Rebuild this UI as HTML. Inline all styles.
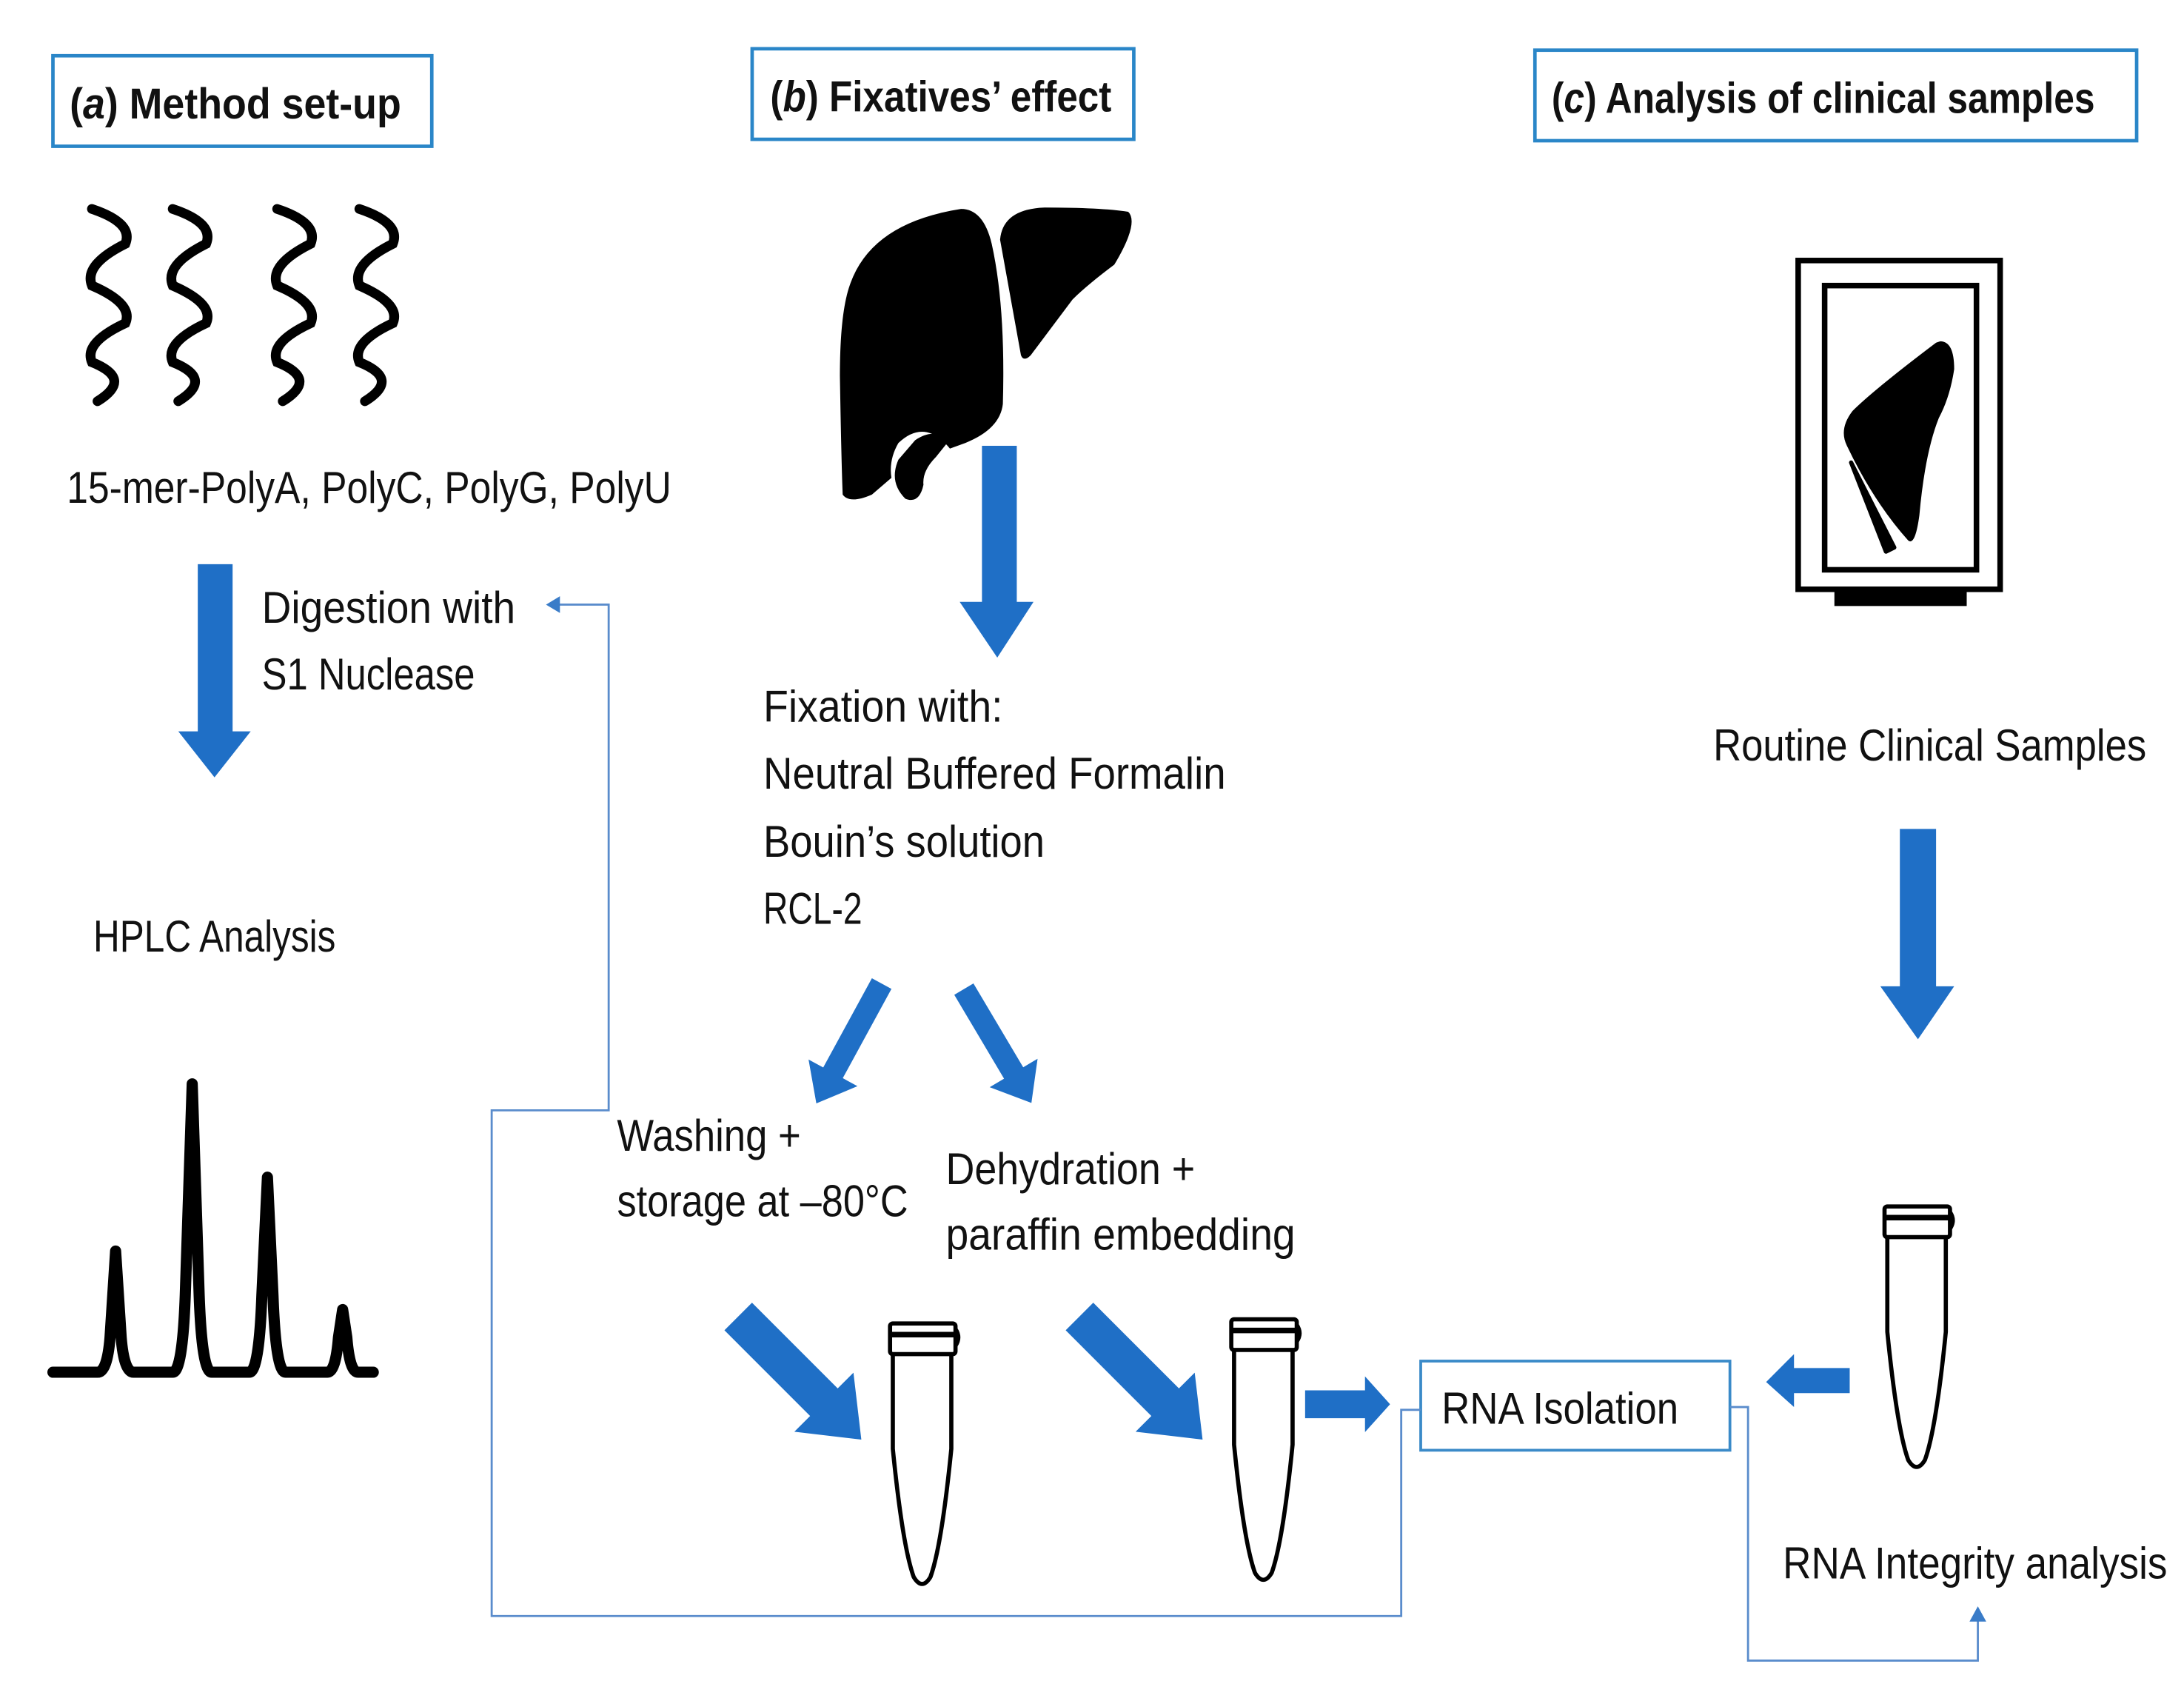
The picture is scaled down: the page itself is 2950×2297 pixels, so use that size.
<!DOCTYPE html>
<html><head><meta charset="utf-8"><style>
html,body{margin:0;padding:0;background:#fff}
svg{display:block}
text{font-family:"Liberation Sans",sans-serif;fill:#111}
</style></head><body>
<svg width="2950" height="2297" viewBox="0 0 1568 1221" preserveAspectRatio="none" xmlns="http://www.w3.org/2000/svg">
<rect width="1568" height="1221" fill="#fff"/>
<g fill="none" stroke="#2a86c8" stroke-width="2.5">
<rect x="38" y="40" width="272" height="65"/>
<rect x="540" y="35" width="274" height="65"/>
<rect x="1102" y="36" width="432" height="65"/>
</g>
<g font-weight="bold" font-size="31">
<text x="50" y="85" textLength="238" lengthAdjust="spacingAndGlyphs">(<tspan font-style="italic">a</tspan>) Method set-up</text>
<text x="553" y="80" textLength="245" lengthAdjust="spacingAndGlyphs">(<tspan font-style="italic">b</tspan>) Fixatives’ effect</text>
<text x="1114" y="81" textLength="390" lengthAdjust="spacingAndGlyphs">(<tspan font-style="italic">c</tspan>) Analysis of clinical samples</text>
</g>
<g fill="none" stroke="#000" stroke-width="7" stroke-linecap="round">
<path id="w" d="M66 150 Q96 160 90 175 Q60 190 66 205 Q96 218 90 232 Q60 246 66 260 Q96 272 70 288"/>
<use href="#w" transform="translate(58,0)"/>
<use href="#w" transform="translate(133,0)"/>
<use href="#w" transform="translate(192,0)"/>
</g>
<g font-size="32" lengthAdjust="spacingAndGlyphs">
<text x="48" y="361" textLength="434" lengthAdjust="spacingAndGlyphs">15-mer-PolyA, PolyC, PolyG, PolyU</text>
<text x="188" y="447" textLength="182" lengthAdjust="spacingAndGlyphs">Digestion with</text>
<text x="188" y="495" textLength="153" lengthAdjust="spacingAndGlyphs">S1 Nuclease</text>
<text x="67" y="683" textLength="174" lengthAdjust="spacingAndGlyphs">HPLC Analysis</text>
<text x="548" y="518" textLength="172" lengthAdjust="spacingAndGlyphs">Fixation with:</text>
<text x="548" y="566" textLength="332" lengthAdjust="spacingAndGlyphs">Neutral Buffered Formalin</text>
<text x="548" y="615" textLength="202" lengthAdjust="spacingAndGlyphs">Bouin’s solution</text>
<text x="548" y="663" textLength="71" lengthAdjust="spacingAndGlyphs">RCL-2</text>
<text x="443" y="826" textLength="132" lengthAdjust="spacingAndGlyphs">Washing +</text>
<text x="443" y="873" textLength="209" lengthAdjust="spacingAndGlyphs">storage at –80°C</text>
<text x="679" y="850" textLength="179" lengthAdjust="spacingAndGlyphs">Dehydration +</text>
<text x="679" y="897" textLength="251" lengthAdjust="spacingAndGlyphs">paraffin embedding</text>
<text x="1035" y="1022" textLength="170" lengthAdjust="spacingAndGlyphs">RNA Isolation</text>
<text x="1230" y="546" textLength="311" lengthAdjust="spacingAndGlyphs">Routine Clinical Samples</text>
<text x="1280" y="1133" textLength="276" lengthAdjust="spacingAndGlyphs">RNA Integrity analysis</text>
</g>
<g fill="#1f6fc6">
<polygon points="142,405 167,405 167,525 180,525 154,558 128,525 142,525"/>
<polygon points="705,320 730,320 730,432 742,432 716,472 689,432 705,432"/>
<polygon points="1364,595 1390,595 1390,708 1403,708 1377,746 1350,708 1364,708"/>
<path transform="translate(633,706) rotate(118.6)" d="M0,-8 L73,-8 L73,-20 L98,0 L73,20 L73,8 L0,8 Z"/>
<path transform="translate(692,710) rotate(59.3)" d="M0,-8 L70,-8 L70,-20 L95,0 L70,20 L70,8 L0,8 Z"/>
<path transform="translate(530,945) rotate(45)" d="M0,-14 L87,-14 L87,-30 L125,0 L87,30 L87,14 L0,14 Z"/>
<path transform="translate(775,945) rotate(45)" d="M0,-14 L87,-14 L87,-30 L125,0 L87,30 L87,14 L0,14 Z"/>
<polygon points="937,998 980,998 980,988 998,1008 980,1028 980,1018 937,1018"/>
<polygon points="1328,982 1288,982 1288,972 1268,992 1288,1010 1288,1000 1328,1000"/>
</g>
<g fill="none" stroke="#5a8ccc" stroke-width="1.5">
<rect x="1020" y="977" width="222" height="64" stroke="#3a8ac8" stroke-width="2"/>
<polyline points="1020,1012 1006,1012 1006,1160 353,1160 353,797 437,797 437,434 400,434"/>
<polyline points="1242,1010 1255,1010 1255,1192 1420,1192 1420,1162"/>
</g>
<g fill="#3a7cc8">
<polygon points="392,434 402,428 402,440"/>
<polygon points="1420,1153 1414,1164 1426,1164"/>
</g>
<path d="M38 985 L70 985 Q77 985 79 960 L83 898 L87 960 Q89 985 96 985 L124 985 Q131 985 133 930 L138 778 L143 930 Q145 985 152 985 L179 985 Q186 985 188 930 L192 845 L196 930 Q198 985 205 985 L235 985 Q241 985 243 960 L246 940 L249 960 Q251 985 257 985 L268 985" fill="none" stroke="#000" stroke-width="8" stroke-linejoin="round" stroke-linecap="round"/>
<path d="M610 205 Q625 160 690 150 Q706 150 712 175 Q722 220 720 290 Q718 308 693 318 L682 322 Q664 300 645 318 Q638 330 640 343 L626 355 Q610 362 605 355 Q604 330 603 270 Q603 225 610 205 Z" fill="#000"/>
<path d="M718 172 Q720 150 750 149 Q790 149 810 152 Q818 160 800 190 Q780 205 770 215 Q755 235 740 255 Q735 260 733 255 Z" fill="#000"/>
<path d="M657 316 Q672 306 680 318 L672 328 Q662 338 663 348 Q660 362 650 358 Q638 346 645 330 Z" fill="#000"/>
<g fill="none" stroke="#000" stroke-width="4">
<rect x="1291" y="187" width="145" height="236"/>
<rect x="1310" y="205" width="109" height="204"/>
</g>
<rect x="1317" y="422" width="95" height="13" fill="#000"/>
<path d="M1393 245 Q1403 245 1403 265 Q1400 285 1392 300 Q1382 325 1378 370 Q1375 392 1370 388 Q1345 360 1326 320 Q1320 308 1330 295 Q1345 280 1390 246 Z" fill="#000"/>
<path d="M1329 332 L1354 396 L1360 393 Z" fill="#000" stroke="#000" stroke-width="3" stroke-linejoin="round"/>
<g fill="#fff" stroke="#000" stroke-width="3">
<g id="t">
<path d="M641 972 L641 1040 Q648 1110 656 1132 Q662 1142 668 1132 Q676 1110 683 1040 L683 972"/>
<rect x="639" y="950" width="47" height="22" rx="2"/>
<line x1="639" y1="958" x2="686" y2="958" stroke-width="4"/>
<path d="M686 954 Q690 960 686 966" fill="none"/>
</g>
<use href="#t" transform="translate(245,-3)"/>
<use href="#t" transform="translate(714,-84)"/>
</g>
</svg>
</body></html>
